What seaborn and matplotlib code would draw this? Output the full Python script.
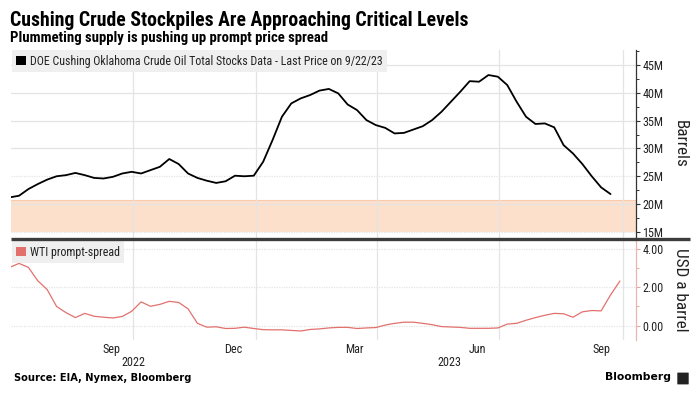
import matplotlib
matplotlib.use("Agg")
import matplotlib.pyplot as plt
import matplotlib.dates as mdates
import matplotlib.ticker as mticker
from matplotlib import font_manager as fm
from matplotlib.lines import Line2D
from matplotlib.patches import Patch, FancyBboxPatch
import matplotlib.transforms as mtransforms
import numpy as np
import pandas as pd
import seaborn as sns

# ---------------- data ----------------
stock_dates = pd.date_range("2022-07-01", "2023-09-22", freq="W-FRI")
stocks_m = [21.2, 21.5, 22.7, 23.6, 24.4, 25.0, 25.2, 25.6, 25.2, 24.7,
            24.6, 24.9, 25.5, 25.8, 25.5, 26.1, 26.7, 28.1, 27.2, 25.5,
            24.7, 24.2, 23.8, 24.1, 25.1, 25.0, 25.1, 27.6, 31.5, 35.7,
            38.1, 39.0, 39.6, 40.4, 40.7, 39.9, 37.9, 36.9, 35.1, 34.2,
            33.7, 32.7, 32.8, 33.4, 34.0, 35.1, 36.6, 38.4, 40.2, 42.1,
            42.0, 43.2, 42.9, 41.4, 38.4, 35.7, 34.4, 34.5, 33.8, 30.6,
            29.1, 27.2, 25.0, 23.0, 21.8]

spread_dates = pd.date_range("2022-07-01", "2023-09-29", freq="W-FRI")
spread_usd = [3.04, 3.25, 3.04, 2.34, 1.88, 1.00, 0.68, 0.42, 0.64, 0.49,
              0.44, 0.40, 0.48, 0.75, 1.24, 1.01, 1.11, 1.27, 1.21, 0.88,
              0.12, -0.08, -0.06, -0.15, -0.14, -0.08, -0.15, -0.21, -0.22, -0.22,
              -0.25, -0.28, -0.20, -0.17, -0.12, -0.09, -0.09, -0.15, -0.12, -0.10,
              0.03, 0.12, 0.18, 0.18, 0.12, 0.05, -0.05, -0.07, -0.09, -0.14,
              -0.14, -0.14, -0.12, 0.08, 0.12, 0.28, 0.42, 0.54, 0.64, 0.62,
              0.44, 0.72, 0.79, 0.77, 1.60, 2.33]

band_low, band_high = 15.0, 20.8
stock_ticks = [15, 20, 25, 30, 35, 40, 45]
spread_ticks = [0, 2, 4]
month_labels = ["Sep", "Dec", "Mar", "Jun", "Sep"]
month_label_dates = ["2022-09-15", "2022-12-15", "2023-03-15", "2023-06-15", "2023-09-15"]
quarter_dates = ["2022-10-01", "2023-01-01", "2023-04-01", "2023-07-01", "2023-10-01"]
year_labels = ["2022", "2023"]
year_label_dates = ["2022-10-01", "2023-05-25"]

title = "Cushing Crude Stockpiles Are Approaching Critical Levels"
subtitle = "Plummeting supply is pushing up prompt price spread"
legend1 = "DOE Cushing Oklahoma Crude Oil Total Stocks Data - Last Price on 9/22/23"
legend2 = "WTI prompt-spread"
source = "Source: EIA, Nymex, Bloomberg"

# ---------------- style ----------------
sns.set_theme(style="white")
names = {f.name for f in fm.fontManager.ttflist}
cond = "DejaVu Sans"
for cand in ["Roboto Condensed", "Asap Condensed", "Archivo Narrow", "Barlow Semi Condensed",
             "Liberation Sans Narrow", "Roboto"]:
    if cand in names:
        cond = cand
        break
plt.rcParams["font.family"] = [cond, "DejaVu Sans"]

W, H = 699, 394
fig = plt.figure(figsize=(W / 100, H / 100), dpi=100)
fig.patch.set_facecolor("white")
renderer = fig.canvas.get_renderer()


def fx(px):
    return px / W


def fy(py):
    return 1 - py / H


def fit(t, target_px):
    """Scale a text's font size so its rendered width matches target_px."""
    for _ in range(3):
        w = t.get_window_extent(renderer).width
        if w > 0:
            t.set_fontsize(t.get_fontsize() * target_px / w)
    return t.get_fontsize()


ax1 = fig.add_axes([fx(11), fy(238), fx(636 - 11), (238 - 50) / H])
ax2 = fig.add_axes([fx(11), fy(340), fx(636 - 11), (340 - 241) / H])

xmin, xmax = pd.Timestamp("2022-07-02"), pd.Timestamp("2023-10-11")
stock_color = "black"
spread_color = "#e2716d"
grid_color = "#e4e4e4"
text_color = "#222222"

df1 = pd.DataFrame({"date": stock_dates, "stocks": stocks_m})
df2 = pd.DataFrame({"date": spread_dates, "spread": spread_usd})

ax1.axhspan(band_low, band_high, facecolor="#fde0cb", edgecolor="none", zorder=0)
ax1.axhline(band_high, color="#f6cbb0", lw=0.8, zorder=0.5)
sns.lineplot(data=df1, x="date", y="stocks", ax=ax1, color=stock_color, lw=1.3, zorder=3)
sns.lineplot(data=df2, x="date", y="spread", ax=ax2, color=spread_color, lw=0.9, zorder=3)

# tick label size from reference width of "45M" (~21 px)
probe = fig.text(0, 0, "45M")
tick_fs = fit(probe, 21)
probe.remove()

for ax in (ax1, ax2):
    ax.set_xlim(xmin, xmax)
    ax.set_xlabel("")
    ax.set_ylabel("")
    ax.set_facecolor("white")
    for s in ("left", "top", "bottom"):
        ax.spines[s].set_visible(False)
    ax.yaxis.tick_right()
    ax.xaxis.set_major_locator(mticker.FixedLocator(
        [mdates.date2num(pd.Timestamp(d)) for d in month_label_dates]))
    ax.xaxis.set_minor_locator(mticker.FixedLocator(
        [mdates.date2num(pd.Timestamp(d)) for d in quarter_dates]))
    ax.grid(False)
    ax.xaxis.grid(True, which="minor", color=grid_color, lw=0.9, zorder=0)
    ax.tick_params(axis="x", which="both", length=0)

# top axis
ax1.set_ylim(13.9, 47.7)
ax1.set_yticks(stock_ticks)
ax1.set_yticklabels([f"{t}M" for t in stock_ticks])
ax1.yaxis.set_minor_locator(mticker.MultipleLocator(2.5))
for t in stock_ticks:
    ax1.axhline(t, color=grid_color, lw=0.9, ls=(0, (1, 1)) if t in (15, 25) else "-", zorder=0.2)
ax1.spines["right"].set_color("#333333")
ax1.spines["right"].set_linewidth(0.9)
ax1.tick_params(axis="y", which="major", length=3, width=0.8, color="#333333", pad=1.5,
                labelsize=tick_fs, labelcolor=text_color)
ax1.tick_params(axis="y", which="minor", length=2, width=0.7, color="#333333")
ax1.set_xticklabels([])

# bottom axis
ax2.set_ylim(-0.75, 4.42)
ax2.set_yticks(spread_ticks)
ax2.set_yticklabels([f"{t:.2f}" for t in spread_ticks])
ax2.yaxis.set_minor_locator(mticker.MultipleLocator(1))
for t in spread_ticks:
    ax2.axhline(t, color=grid_color, lw=0.9, ls=(0, (1, 1)), zorder=0.2)
ax2.spines["right"].set_color("#eab4b2")
ax2.spines["right"].set_linewidth(0.9)
ax2.tick_params(axis="y", which="major", length=3, width=0.8, color="#e7a9a7", pad=1.5,
                labelsize=tick_fs, labelcolor=text_color)
ax2.tick_params(axis="y", which="minor", length=2, width=0.7, color="#e7a9a7")
ax2.set_xticklabels(month_labels)
ax2.tick_params(axis="x", which="major", labelsize=tick_fs, labelcolor=text_color, pad=2)

trans = mtransforms.blended_transform_factory(ax2.transData, ax2.transAxes)
for lab, d in zip(year_labels, year_label_dates):
    ax2.text(mdates.date2num(pd.Timestamp(d)), -(363 - 340) / 99, lab, transform=trans,
             ha="center", va="center", fontsize=tick_fs, color=text_color)

# legends
probe = fig.text(0, 0, legend1)
leg_fs = fit(probe, 354)
probe.remove()


def make_legend(ax, color, label):
    leg = ax.legend([Patch(facecolor=color, edgecolor="none")], [label], loc="upper left",
                    bbox_to_anchor=(0.0015, 1.0), frameon=True, fontsize=leg_fs,
                    handlelength=0.8, handleheight=0.8, handletextpad=0.3,
                    borderpad=0.38, borderaxespad=0, fancybox=False)
    fr = leg.get_frame()
    fr.set_facecolor("#efefef")
    fr.set_edgecolor("none")
    fr.set_alpha(1)
    for txt in leg.get_texts():
        txt.set_color(text_color)
    return leg


make_legend(ax1, stock_color, legend1)
make_legend(ax2, spread_color, legend2)

# separator bar
fig.add_artist(Line2D([fx(11), fx(690)], [fy(239), fy(239)], transform=fig.transFigure,
                      color="#3c3c3c", lw=2.4, solid_capstyle="butt"))

# axis titles
t = fig.text(fx(680), fy(144), "Barrels", ha="center", va="center",
             fontsize=11, color=text_color)
bars_fs = fit(t, 48)
t.set_rotation(-90)
t2 = fig.text(fx(680), fy(290), "USD a barrel", rotation=-90, ha="center", va="center",
              fontsize=bars_fs, color=text_color)

# titles
tt = fig.text(fx(10), fy(26.5), title, ha="left", va="baseline", fontsize=16, weight="bold", color="black")
fit(tt, 460)
st = fig.text(fx(10), fy(42), subtitle, ha="left", va="baseline", fontsize=11, weight="bold", color="black")
fit(st, 318)
so = fig.text(fx(14), fy(378), source, ha="left", va="center", fontsize=8, weight="bold",
              family=["DejaVu Sans"], color="black")
fit(so, 178)
bl = fig.text(fx(671), fy(377), "Bloomberg", ha="right", va="center", fontsize=9.5, weight="bold",
              family=["DejaVu Sans"], color="black")
fit(bl, 66)
fig.add_artist(FancyBboxPatch((fx(678), fy(384)), fx(10), 11 / H, boxstyle="round,pad=0.001",
                              transform=fig.transFigure, facecolor="#222222", edgecolor="none"))

fig.savefig("out.png", dpi=100, facecolor="white")
